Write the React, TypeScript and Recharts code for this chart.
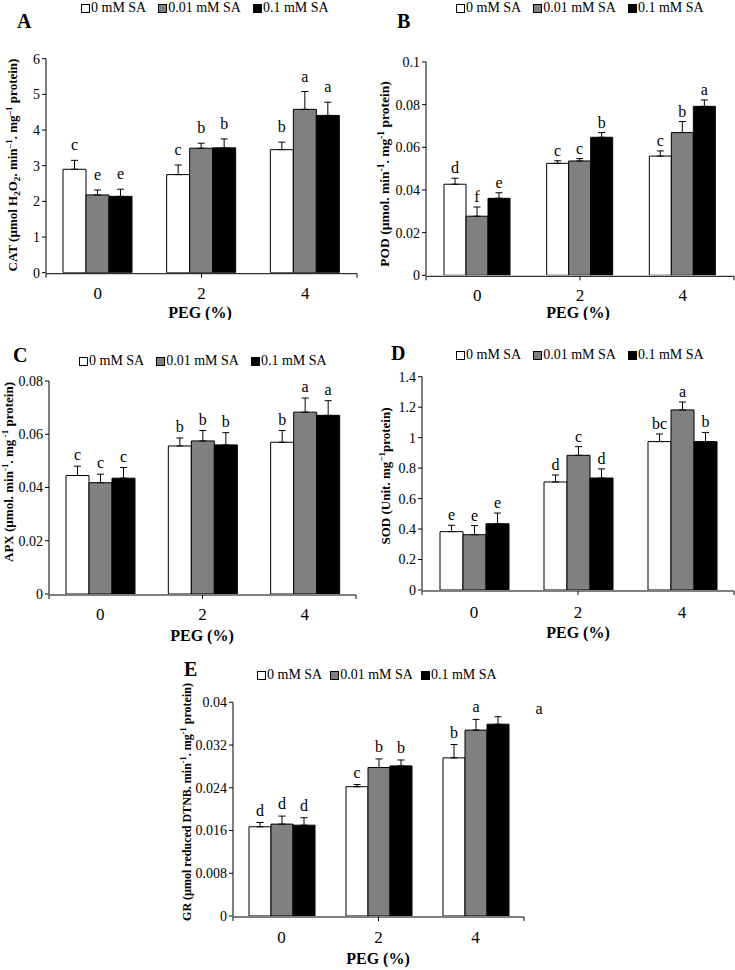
import React from 'react';
import { BarChart, Bar, XAxis, YAxis, ErrorBar, LabelList, Legend } from 'recharts';

const FONT = '"Liberation Serif", "Times New Roman", serif';

const CATEGORIES = ['0', '2', '4'];
const SERIES_NAMES = ['0 mM SA', '0.01 mM SA', '0.1 mM SA'];
const SERIES_COLORS = ['#ffffff', '#808080', '#000000'];

// A: CAT
const CAT_SA0 = [2.9, 2.75, 3.45];
const CAT_SA001 = [2.18, 3.49, 4.58];
const CAT_SA01 = [2.14, 3.5, 4.41];
const CAT_ERR_SA0 = [0.25, 0.27, 0.21];
const CAT_ERR_SA001 = [0.14, 0.14, 0.5];
const CAT_ERR_SA01 = [0.2, 0.25, 0.37];
const CAT_LET_SA0 = ['c', 'c', 'b'];
const CAT_LET_SA001 = ['e', 'b', 'a'];
const CAT_LET_SA01 = ['e', 'b', 'a'];
const CAT_TICKS = [0, 1, 2, 3, 4, 5, 6];
const CAT_TICK_LABELS = ['0', '1', '2', '3', '4', '5', '6'];

// B: POD
const POD_SA0 = [0.0427, 0.0525, 0.0559];
const POD_SA001 = [0.0277, 0.0536, 0.0669];
const POD_SA01 = [0.0361, 0.0647, 0.0792];
const POD_ERR_SA0 = [0.0028, 0.0012, 0.0024];
const POD_ERR_SA001 = [0.0043, 0.0011, 0.0052];
const POD_ERR_SA01 = [0.0026, 0.0022, 0.003];
const POD_LET_SA0 = ['d', 'c', 'c'];
const POD_LET_SA001 = ['f', 'c', 'b'];
const POD_LET_SA01 = ['e', 'b', 'a'];
const POD_TICKS = [0, 0.02, 0.04, 0.06, 0.08, 0.1];
const POD_TICK_LABELS = ['0', '0.02', '0.04', '0.06', '0.08', '0.1'];

// C: APX
const APX_SA0 = [0.0445, 0.0556, 0.057];
const APX_SA001 = [0.0418, 0.0575, 0.0683];
const APX_SA01 = [0.0435, 0.056, 0.0671];
const APX_ERR_SA0 = [0.0035, 0.003, 0.0044];
const APX_ERR_SA001 = [0.0032, 0.0039, 0.0053];
const APX_ERR_SA01 = [0.004, 0.0046, 0.0055];
const APX_LET_SA0 = ['c', 'b', 'b'];
const APX_LET_SA001 = ['c', 'b', 'a'];
const APX_LET_SA01 = ['c', 'b', 'a'];
const APX_TICKS = [0, 0.02, 0.04, 0.06, 0.08];
const APX_TICK_LABELS = ['0', '0.02', '0.04', '0.06', '0.08'];

// D: SOD
const SOD_SA0 = [0.383, 0.709, 0.974];
const SOD_SA001 = [0.363, 0.884, 1.182];
const SOD_SA01 = [0.435, 0.735, 0.974];
const SOD_ERR_SA0 = [0.042, 0.046, 0.05];
const SOD_ERR_SA001 = [0.06, 0.057, 0.052];
const SOD_ERR_SA01 = [0.07, 0.06, 0.06];
const SOD_LET_SA0 = ['e', 'd', 'bc'];
const SOD_LET_SA001 = ['e', 'c', 'a'];
const SOD_LET_SA01 = ['e', 'd', 'b'];
const SOD_TICKS = [0, 0.2, 0.4, 0.6, 0.8, 1, 1.2, 1.4];
const SOD_TICK_LABELS = ['0', '0.2', '0.4', '0.6', '0.8', '1', '1.2', '1.4'];

// E: GR
const GR_SA0 = [0.0167, 0.0242, 0.0296];
const GR_SA001 = [0.0172, 0.0278, 0.0348];
const GR_SA01 = [0.017, 0.0281, 0.0359];
const GR_ERR_SA0 = [0.0008, 0.0004, 0.0025];
const GR_ERR_SA001 = [0.0015, 0.0016, 0.002];
const GR_ERR_SA01 = [0.0014, 0.0011, 0.0014];
const GR_LET_SA0 = ['d', 'c', 'b'];
const GR_LET_SA001 = ['d', 'b', 'a'];
const GR_LET_SA01 = ['d', 'b', 'a'];
const GR_TICKS = [0, 0.008, 0.016, 0.024, 0.032, 0.04];
const GR_TICK_LABELS = ['0', '0.008', '0.016', '0.024', '0.032', '0.04'];

type Seg = [string, 'n' | 'sub' | 'sup'];

type PanelCfg = {
  id: string;
  box: { left: number; top: number; width: number; height: number };
  plot: { left: number; top: number; right: number; bottom: number };
  values: number[][];
  errors: number[][];
  letters: string[][];
  letterShift?: Record<string, [number, number]>;
  ticks: number[];
  tickLabels: string[];
  yLabel: Seg[];
  yLabelPos: [number, number];
  yLabelSize: number;
  legendPos: [number, number];
  legendGap: number;
  idPos: [number, number];
  barSize: number;
  letterGap: number;
  xTickBaseline: number;
  peg: [number, number];
};

const PANELS: PanelCfg[] = [
  {
    id: 'A',
    box: { left: 0, top: 0, width: 365, height: 320 },
    plot: { left: 46, top: 58.7, right: 357, bottom: 272.7 },
    values: [CAT_SA0, CAT_SA001, CAT_SA01],
    errors: [CAT_ERR_SA0, CAT_ERR_SA001, CAT_ERR_SA01],
    letters: [CAT_LET_SA0, CAT_LET_SA001, CAT_LET_SA01],
    ticks: CAT_TICKS,
    tickLabels: CAT_TICK_LABELS,
    yLabel: [['CAT (µmol H', 'n'], ['2', 'sub'], ['O', 'n'], ['2', 'sub'], ['. min', 'n'], ['–1', 'sup'], ['. mg', 'n'], ['–1', 'sup'], [' protein)', 'n']],
    yLabelPos: [12, 165],
    yLabelSize: 13,
    legendPos: [81, 8],
    legendGap: 12,
    idPos: [17, 28],
    barSize: 23,
    letterGap: 10,
    xTickBaseline: 26,
    peg: [200, 318],
  },
  {
    id: 'B',
    box: { left: 365, top: 0, width: 370, height: 320 },
    plot: { left: 426, top: 62, right: 734, bottom: 275.3 },
    values: [POD_SA0, POD_SA001, POD_SA01],
    errors: [POD_ERR_SA0, POD_ERR_SA001, POD_ERR_SA01],
    letters: [POD_LET_SA0, POD_LET_SA001, POD_LET_SA01],
    ticks: POD_TICKS,
    tickLabels: POD_TICK_LABELS,
    yLabel: [['POD (µmol. min', 'n'], ['-1', 'sup'], ['. mg', 'n'], ['-1', 'sup'], [' protein)', 'n']],
    yLabelPos: [384, 174],
    yLabelSize: 13.5,
    legendPos: [456, 8],
    legendGap: 12,
    idPos: [397, 28],
    barSize: 22,
    letterGap: 5,
    xTickBaseline: 26,
    peg: [578, 318],
  },
  {
    id: 'C',
    box: { left: 0, top: 320, width: 365, height: 325 },
    plot: { left: 49, top: 381, right: 356, bottom: 594 },
    values: [APX_SA0, APX_SA001, APX_SA01],
    errors: [APX_ERR_SA0, APX_ERR_SA001, APX_ERR_SA01],
    letters: [APX_LET_SA0, APX_LET_SA001, APX_LET_SA01],
    ticks: APX_TICKS,
    tickLabels: APX_TICK_LABELS,
    yLabel: [['APX (µmol. min', 'n'], ['-1', 'sup'], ['. mg', 'n'], [' -1', 'sup'], [' protein)', 'n']],
    yLabelPos: [8, 472],
    yLabelSize: 13,
    legendPos: [79, 361],
    legendGap: 12,
    idPos: [13, 362],
    barSize: 23,
    letterGap: 6,
    xTickBaseline: 26,
    peg: [202, 641],
  },
  {
    id: 'D',
    box: { left: 365, top: 320, width: 370, height: 325 },
    plot: { left: 422, top: 376.7, right: 734, bottom: 590 },
    values: [SOD_SA0, SOD_SA001, SOD_SA01],
    errors: [SOD_ERR_SA0, SOD_ERR_SA001, SOD_ERR_SA01],
    letters: [SOD_LET_SA0, SOD_LET_SA001, SOD_LET_SA01],
    ticks: SOD_TICKS,
    tickLabels: SOD_TICK_LABELS,
    yLabel: [['SOD (Unit. mg', 'n'], ['−1', 'sup'], ['protein)', 'n']],
    yLabelPos: [385, 476],
    yLabelSize: 13,
    legendPos: [456, 355],
    legendGap: 12,
    idPos: [391, 360],
    barSize: 23,
    letterGap: 5,
    xTickBaseline: 28,
    peg: [578, 638],
  },
  {
    id: 'E',
    box: { left: 170, top: 650, width: 400, height: 320 },
    plot: { left: 233, top: 702.3, right: 524, bottom: 916 },
    values: [GR_SA0, GR_SA001, GR_SA01],
    errors: [GR_ERR_SA0, GR_ERR_SA001, GR_ERR_SA01],
    letters: [GR_LET_SA0, GR_LET_SA001, GR_LET_SA01],
    letterShift: { '2-2': [41, 4] },
    ticks: GR_TICKS,
    tickLabels: GR_TICK_LABELS,
    yLabel: [['GR (µmol reduced DTNB. min', 'n'], ['-1', 'sup'], ['. mg', 'n'], ['-1', 'sup'], [' protein)', 'n']],
    yLabelPos: [186, 802],
    yLabelSize: 12,
    legendPos: [257, 675],
    legendGap: 8,
    idPos: [184, 676],
    barSize: 22,
    letterGap: 7,
    xTickBaseline: 27,
    peg: [378, 964],
  },
];

function RotLabel({ x, y, size, segs }: { x: number; y: number; size: number; segs: Seg[] }) {
  let cur = 0;
  const small = size * 0.7;
  return (
    <text
      x={x}
      y={y}
      transform={`rotate(-90, ${x}, ${y})`}
      textAnchor="middle"
      fontFamily={FONT}
      fontWeight="bold"
      fontSize={size}
      fill="#000"
    >
      {segs.map(([t, k], i) => {
        const target = k === 'sub' ? size * 0.25 : k === 'sup' ? -size * 0.38 : 0;
        const dy = target - cur;
        cur = target;
        return (
          <tspan key={i} dy={dy} fontSize={k === 'n' ? size : small}>
            {t}
          </tspan>
        );
      })}
    </text>
  );
}

function LegendBox({ gap }: { gap: number }) {
  return (
    <div style={{ display: 'flex', alignItems: 'center', fontFamily: FONT, fontSize: 14, color: '#000', whiteSpace: 'nowrap', lineHeight: '16px' }}>
      {SERIES_NAMES.map((n, i) => (
        <div key={n} style={{ display: 'flex', alignItems: 'center', marginRight: gap }}>
          <span style={{ display: 'inline-block', width: 7, height: 7, border: '1px solid #000', background: SERIES_COLORS[i], marginRight: 1 }} />
          <span>{n}</span>
        </div>
      ))}
    </div>
  );
}

function Panel({ cfg }: { cfg: PanelCfg }) {
  const { box, plot } = cfg;
  const yw = 40;
  const margin = {
    top: plot.top - box.top,
    right: box.left + box.width - plot.right,
    bottom: box.top + box.height - plot.bottom - 2,
    left: plot.left - box.left - yw,
  };
  const data = CATEGORIES.map((c, i) => {
    const row: any = { peg: c };
    for (let s = 0; s < 3; s++) {
      row['v' + s] = cfg.values[s][i];
      row['e' + s] = [0, cfg.errors[s][i]];
    }
    return row;
  });
  const max = cfg.ticks[cfg.ticks.length - 1];

  const renderLetter = (s: number) => (p: any) => {
    const vb = p.viewBox && p.viewBox.width != null ? p.viewBox : p;
    const idx = p.index;
    if (idx == null || vb == null) return null;
    const h = Math.abs(Number(vb.height));
    const top = Math.min(Number(vb.y), Number(vb.y) + Number(vb.height));
    const v = cfg.values[s][idx];
    const e = cfg.errors[s][idx];
    const errPx = v ? (e / v) * h : 0;
    const sh = (cfg.letterShift && cfg.letterShift[`${s}-${idx}`]) || [0, 0];
    return (
      <text
        key={`l${s}-${idx}`}
        x={Number(vb.x) + Number(vb.width) / 2 + sh[0]}
        y={top - errPx - cfg.letterGap + sh[1]}
        textAnchor="middle"
        fontFamily={FONT}
        fontSize={16}
        fill="#000"
      >
        {cfg.letters[s][idx]}
      </text>
    );
  };

  return (
    <div style={{ position: 'absolute', left: box.left, top: box.top, width: box.width, height: box.height }}>
      <div
        style={{
          position: 'absolute',
          left: cfg.idPos[0] - box.left,
          top: cfg.idPos[1] - box.top - 17,
          fontFamily: FONT,
          fontWeight: 'bold',
          fontSize: 20,
          lineHeight: '20px',
          color: '#000',
          zIndex: 2,
        }}
      >
        {cfg.id}
      </div>
      <BarChart width={box.width} height={box.height} data={data} margin={margin} barGap={0} barSize={cfg.barSize}>
        <XAxis
          xAxisId="n"
          type="number"
          domain={[0, 3]}
          ticks={[0, 1, 2, 3]}
          interval={0}
          allowDataOverflow
          height={1}
          tickSize={4}
          tickFormatter={() => ''}
          axisLine={{ stroke: '#000', strokeWidth: 1 }}
          tickLine={{ stroke: '#000', strokeWidth: 1 }}
        />
        <XAxis
          xAxisId="c"
          dataKey="peg"
          height={1}
          tickSize={0}
          tickMargin={0}
          axisLine={false}
          tickLine={false}
          interval={0}
          tick={(p: any) => (
            <text x={p.x} y={plot.bottom - box.top + cfg.xTickBaseline} textAnchor="middle" fontFamily={FONT} fontSize={17} fill="#000">
              {p.payload.value}
            </text>
          )}
          label={() => (
            <text x={cfg.peg[0] - box.left} y={cfg.peg[1] - box.top} textAnchor="middle" fontFamily={FONT} fontWeight="bold" fontSize={16} fill="#000">
              PEG (%)
            </text>
          )}
        />
        <YAxis
          type="number"
          domain={[0, max]}
          ticks={cfg.ticks}
          interval={0}
          allowDataOverflow
          width={yw}
          tickSize={4}
          tickMargin={2}
          tickFormatter={(_v: any, i: number) => cfg.tickLabels[i]}
          axisLine={{ stroke: '#000', strokeWidth: 1 }}
          tickLine={{ stroke: '#000', strokeWidth: 1 }}
          tick={{ fill: '#000', fontSize: 14, fontFamily: FONT }}
          label={() => (
            <RotLabel x={cfg.yLabelPos[0] - box.left + 5} y={cfg.yLabelPos[1] - box.top} size={cfg.yLabelSize} segs={cfg.yLabel} />
          )}
        />
        <Legend
          layout="horizontal"
          verticalAlign="middle"
          align="center"
          wrapperStyle={{ left: cfg.legendPos[0] - box.left, top: cfg.legendPos[1] - box.top - 8, width: 320, height: 16 }}
          content={() => <LegendBox gap={cfg.legendGap} />}
        />
        {[0, 1, 2].map((s) => (
          <Bar
            key={s}
            xAxisId="c"
            dataKey={'v' + s}
            name={SERIES_NAMES[s]}
            fill={SERIES_COLORS[s]}
            stroke="#000"
            strokeWidth={1}
            isAnimationActive={false}
          >
            <ErrorBar dataKey={'e' + s} direction="y" width={3.5} stroke="#000" strokeWidth={1} isAnimationActive={false} />
            <LabelList dataKey={'v' + s} content={renderLetter(s)} />
          </Bar>
        ))}
      </BarChart>
    </div>
  );
}

export default function App() {
  return (
    <div style={{ position: 'absolute', left: 0, top: 0, width: 735, height: 970, background: '#fff', overflow: 'hidden' }}>
      {PANELS.map((cfg) => (
        <Panel key={cfg.id} cfg={cfg} />
      ))}
    </div>
  );
}
